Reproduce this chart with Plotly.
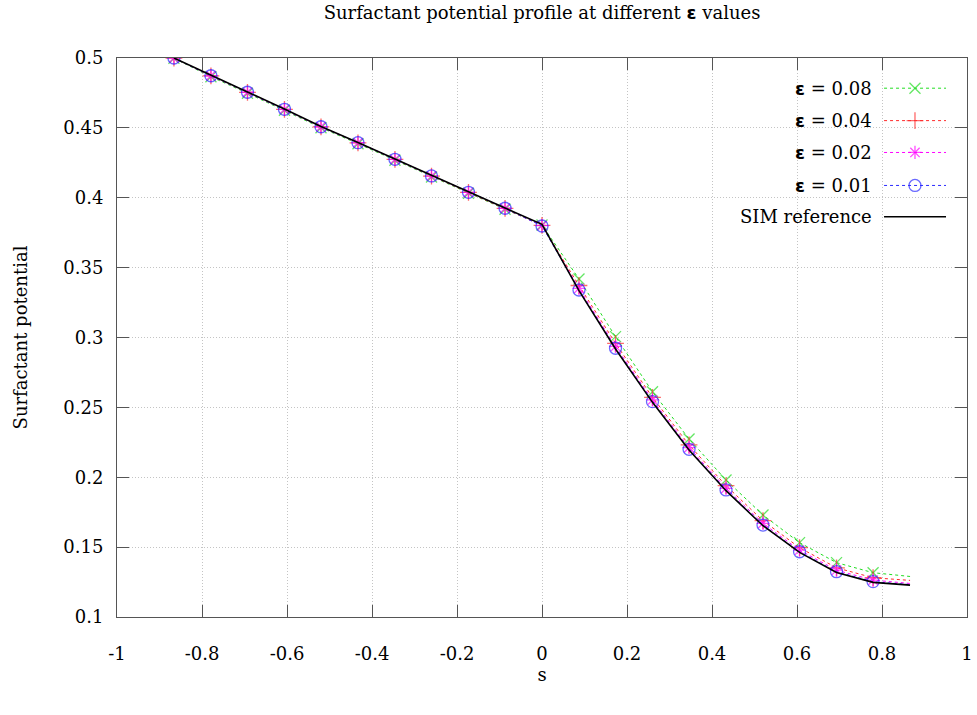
import plotly.graph_objects as go

# ---------------- data ----------------
s = [-0.866, -0.779, -0.693, -0.606, -0.520, -0.433, -0.346, -0.260, -0.173, -0.087,
     0.0, 0.087, 0.173, 0.260, 0.346, 0.433, 0.520, 0.606, 0.693, 0.779, 0.866]

eps_008 = [0.4998, 0.4866, 0.4748, 0.4626, 0.4501, 0.4387, 0.4268, 0.4149, 0.4032, 0.3918,
           0.3805, 0.3419, 0.3006, 0.2612, 0.2274, 0.1980, 0.1730, 0.1532, 0.1389, 0.1317, 0.1290]
eps_004 = [0.5000, 0.4872, 0.4754, 0.4632, 0.4507, 0.4393, 0.4274, 0.4155, 0.4038, 0.3924,
           0.3802, 0.3372, 0.2958, 0.2572, 0.2231, 0.1940, 0.1689, 0.1496, 0.1352, 0.1281, 0.1262]
eps_002 = [0.5000, 0.4873, 0.4755, 0.4633, 0.4508, 0.4394, 0.4275, 0.4156, 0.4039, 0.3925,
           0.3800, 0.3352, 0.2936, 0.2553, 0.2212, 0.1921, 0.1670, 0.1478, 0.1335, 0.1264, 0.1240]
eps_001 = [0.5000, 0.4873, 0.4755, 0.4633, 0.4508, 0.4394, 0.4275, 0.4156, 0.4039, 0.3925,
           0.3798, 0.3340, 0.2923, 0.2541, 0.2200, 0.1909, 0.1658, 0.1467, 0.1324, 0.1253, 0.1232]
sim_ref = [0.5000, 0.4875, 0.4757, 0.4635, 0.4510, 0.4396, 0.4277, 0.4158, 0.4041, 0.3927,
           0.3810, 0.3335, 0.2918, 0.2536, 0.2195, 0.1904, 0.1653, 0.1462, 0.1318, 0.1248, 0.1228]

labels = ["0.08", "0.04", "0.02", "0.01"]
series = [eps_008, eps_004, eps_002, eps_001]
colors = ["#22dd22", "#ff2a2a", "#ff00ff", "#2a2aff"]
symbols = ["x-thin-open", "cross-thin-open", "asterisk-open", "circle-open"]
msizes = [11, 12, 11, 12]

xticks = [-1, -0.8, -0.6, -0.4, -0.2, 0, 0.2, 0.4, 0.6, 0.8, 1]
xticklabels = ["-1", "-0.8", "-0.6", "-0.4", "-0.2", "0", "0.2", "0.4", "0.6", "0.8", "1"]
yticks = [0.1, 0.15, 0.2, 0.25, 0.3, 0.35, 0.4, 0.45, 0.5]
yticklabels = ["0.1", "0.15", "0.2", "0.25", "0.3", "0.35", "0.4", "0.45", "0.5"]

SERIF = "DejaVu Serif, serif"
FS = 18
EPS = '<span style="font-family:DejaVu Sans"><b>ε</b></span>'

fig = go.Figure()

n = len(s)
for lab, ys, col, sym, ms in zip(labels, series, colors, symbols, msizes):
    fig.add_trace(go.Scatter(
        x=s, y=ys, mode="lines+markers", showlegend=False,
        line=dict(color=col, width=1, dash="3px,3px"),
        marker=dict(symbol=sym, size=[ms] * (n - 1) + [0], color=col,
                    line=dict(color=col, width=1.3)),
        name="ε = " + lab))

fig.add_trace(go.Scatter(x=s, y=sim_ref, mode="lines", showlegend=False,
                         line=dict(color="black", width=1.6), name="SIM reference"))

# ---------- manual legend (gnuplot style: text left, key right) ----------
leg_rows = [0.946, 0.888, 0.831, 0.772, 0.716]
kx0, kx1, kxm, tx = 0.9024, 0.9753, 0.9388, 0.890
leg_texts = [EPS + " = " + l for l in labels] + ["SIM reference"]
for i, row in enumerate(leg_rows):
    fig.add_annotation(xref="paper", yref="paper", x=tx, y=row, text=leg_texts[i],
                       showarrow=False, xanchor="right", yanchor="middle",
                       font=dict(family=SERIF, size=FS, color="black"))
    if i < 4:
        fig.add_trace(go.Scatter(
            x=[kx0, kxm, kx1], y=[row] * 3, xaxis="x2", yaxis="y2",
            mode="lines+markers", showlegend=False, hoverinfo="skip",
            line=dict(color=colors[i], width=1, dash="3px,3px"),
            marker=dict(symbol=symbols[i], size=[0, msizes[i], 0], color=colors[i],
                        line=dict(color=colors[i], width=1.3))))
    else:
        fig.add_trace(go.Scatter(
            x=[kx0, kx1], y=[row] * 2, xaxis="x2", yaxis="y2",
            mode="lines", showlegend=False, hoverinfo="skip",
            line=dict(color="black", width=1.6)))

axis_common = dict(
    showline=True, linecolor="#555555", linewidth=1, mirror="ticks",
    ticks="inside", ticklen=12, tickcolor="#555555", tickwidth=1,
    showgrid=True, gridcolor="#c4c4c4", griddash="1px,2px", gridwidth=1,
    zeroline=False, automargin=False,
    tickfont=dict(family=SERIF, size=FS, color="black"),
)

fig.update_layout(
    width=977, height=715,
    margin=dict(l=117, r=10, t=58, b=98),
    paper_bgcolor="white", plot_bgcolor="white",
    title=dict(text="Surfactant potential profile at different " + EPS + " values",
               x=0.5548, xanchor="center", y=0.982, yanchor="middle",
               font=dict(family=SERIF, size=18, color="black")),
    xaxis=dict(range=[-1, 1], tickvals=xticks, ticktext=xticklabels,
               ticklabelstandoff=20,
               title=dict(text="s", font=dict(family=SERIF, size=FS, color="black"),
                          standoff=4),
               **axis_common),
    yaxis=dict(range=[0.1, 0.5], tickvals=yticks, ticktext=yticklabels,
               ticklabelstandoff=9,
               title=dict(text="Surfactant potential",
                          font=dict(family=SERIF, size=FS, color="black"), standoff=31),
               **axis_common),
    xaxis2=dict(range=[0, 1], overlaying="x", visible=False, domain=[0, 1]),
    yaxis2=dict(range=[0, 1], overlaying="y", visible=False),
)

fig.write_html("out.html", config={"displayModeBar": False},
               post_script="document.body.style.margin='0px';document.body.style.overflow='hidden';")
